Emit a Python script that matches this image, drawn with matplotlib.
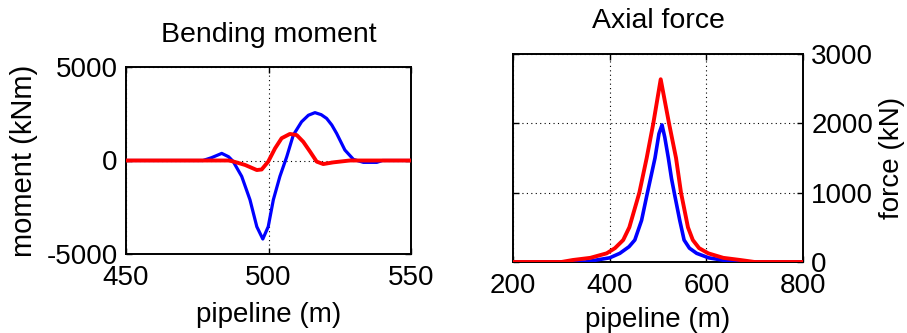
import matplotlib
matplotlib.use("Agg")
import matplotlib.pyplot as plt

plt.rcParams['font.family'] = ['Liberation Sans', 'DejaVu Sans']
plt.rcParams['axes.unicode_minus'] = False

# Bending moment data
bm_x_blue = [450, 462, 470, 477, 480, 483.6, 486, 487.6, 490.6, 493.5, 495.9, 498, 499.9,
             501.7, 504, 506.4, 508.7, 511.6, 514, 516.3, 518.5, 520.4, 522.2, 523.9, 526.8,
             529.8, 533.3, 538, 540, 550]
bm_y_blue = [0, 0, 0, 0, 150, 380, 200, -50, -850, -2100, -3540, -4200, -3540,
             -2100, -850, 200, 1360, 2070, 2420, 2560, 2450, 2250, 1900, 1450, 560,
             60, -100, -100, 0, 0]
bm_x_red = [450, 470, 486, 487.6, 491.8, 495.9, 497.6, 499.9, 502.3, 504.6, 507.5, 509.9,
            512.2, 514.6, 516.9, 519.2, 522.7, 528.5, 550]
bm_y_red = [0, 0, 0, -50, -240, -510, -480, -60, 650, 1190, 1420, 1360,
            1000, 470, -60, -190, -100, 0, 0]

# Axial force data
af_x_blue = [200, 350, 373, 400, 421, 440, 452, 466, 476.6, 486, 493.8, 502, 508.3, 514,
             521.4, 528, 535, 545, 554, 565, 580, 605, 632, 660, 800]
af_y_blue = [0, 0, 29, 60, 125, 220, 317, 600, 950, 1250, 1500, 1850, 1977, 1800,
             1500, 1200, 950, 600, 317, 200, 125, 60, 29, 0, 0]
af_x_red = [200, 300, 324, 360, 393.8, 411, 428, 440.7, 461.4, 476.6, 490.3, 505.6,
            522.8, 537.3, 547.6, 562, 572, 585, 604, 635, 670, 700, 800]
af_y_red = [0, 0, 29, 60, 125, 200, 317, 500, 1000, 1500, 2000, 2636,
            2000, 1500, 1000, 500, 317, 200, 125, 60, 29, 0, 0]

bm_xticks = [450, 500, 550]
bm_yticks = [-5000, 0, 5000]
af_xticks = [200, 400, 600, 800]
af_yticks = [0, 1000, 2000, 3000]

FS = 20
fig = plt.figure(figsize=(9.07, 3.33), dpi=100)

ax1 = fig.add_axes([126/907, 1-254/333, 285/907, 187/333])
ax1.plot(bm_x_blue, bm_y_blue, color='#0000ff', lw=2.3, zorder=3,
         solid_joinstyle='round')
ax1.plot(bm_x_red, bm_y_red, color='#ff0000', lw=2.8, zorder=4,
         solid_joinstyle='round')
ax1.set_xlim(450, 550)
ax1.set_ylim(-5000, 5000)
ax1.set_xticks(bm_xticks)
ax1.set_yticks(bm_yticks)
ax1.grid(True, color='black', linestyle=(0, (1, 3)), linewidth=0.8)
ax1.set_title('Bending moment', fontsize=20.5, pad=18)
ax1.set_xlabel('pipeline (m)', fontsize=FS, labelpad=8)
ax1.set_ylabel('moment (kNm)', fontsize=21, labelpad=6)

ax2 = fig.add_axes([513/907, 1-262/333, 290/907, 208/333])
ax2.plot(af_x_blue, af_y_blue, color='#0000ff', lw=2.6, zorder=3,
         solid_joinstyle='round')
ax2.plot(af_x_red, af_y_red, color='#ff0000', lw=2.8, zorder=4,
         solid_joinstyle='round')
ax2.set_xlim(200, 800)
ax2.set_ylim(0, 3000)
ax2.set_xticks(af_xticks)
ax2.set_yticks(af_yticks)
ax2.yaxis.tick_right()
ax2.yaxis.set_label_position('right')
ax2.grid(True, color='black', linestyle=(0, (1, 3)), linewidth=0.8)
ax2.set_title('Axial force', fontsize=20.5, pad=19)
ax2.set_xlabel('pipeline (m)', fontsize=FS, labelpad=6)
ax2.set_ylabel('force (kN)', fontsize=FS, labelpad=4)

for ax in (ax1, ax2):
    for s in ax.spines.values():
        s.set_linewidth(1.4)
    ax.tick_params(direction='in', length=4, width=1, labelsize=FS,
                   top=True, bottom=True, left=True, right=True, pad=6)
    ax.tick_params(axis='x', pad=8)

fig.savefig('out.png', dpi=100)
